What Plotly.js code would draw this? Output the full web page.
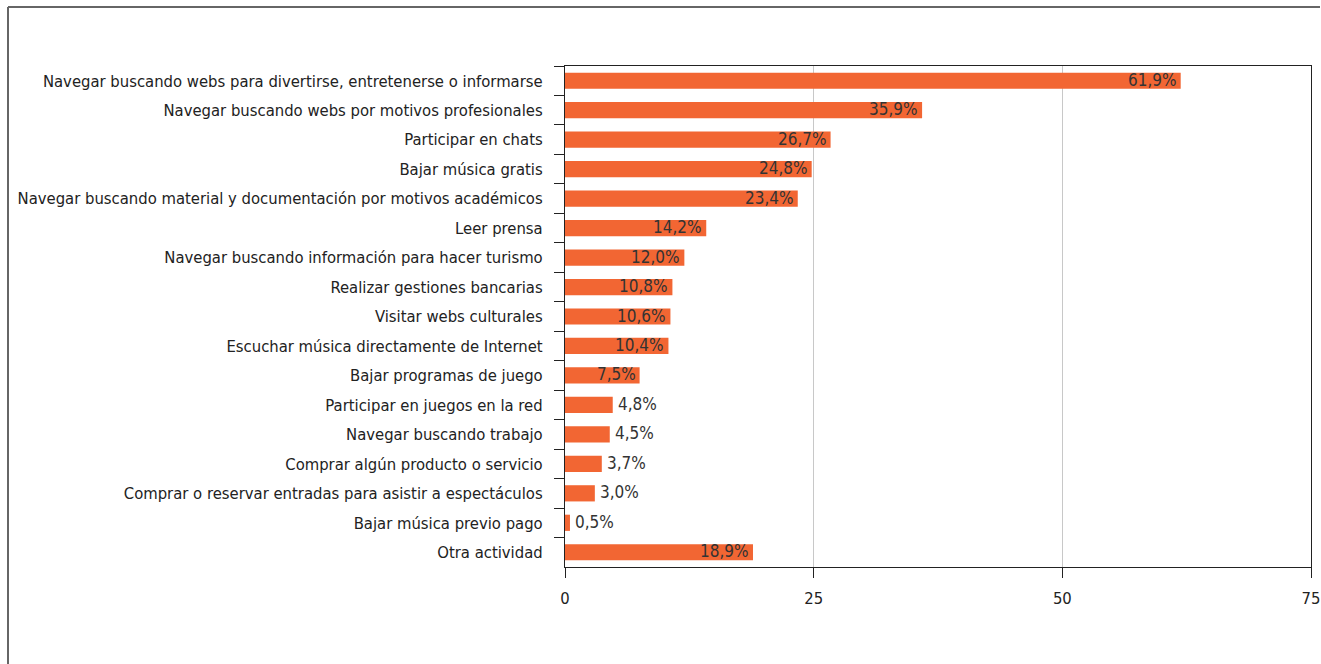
<!DOCTYPE html>
<html>
<head>
<meta charset="utf-8">
<script src="https://cdn.plot.ly/plotly-3.0.1.min.js"></script>
<style>html,body{margin:0;padding:0;background:#fff;}#chart{width:1321px;height:664px;}</style>
</head>
<body>
<div id="chart"></div>
<script>
const categories = [
  "Navegar buscando webs para divertirse, entretenerse o informarse",
  "Navegar buscando webs por motivos profesionales",
  "Participar en chats",
  "Bajar música gratis",
  "Navegar buscando material y documentación por motivos académicos",
  "Leer prensa",
  "Navegar buscando información para hacer turismo",
  "Realizar gestiones bancarias",
  "Visitar webs culturales",
  "Escuchar música directamente de Internet",
  "Bajar programas de juego",
  "Participar en juegos en la red",
  "Navegar buscando trabajo",
  "Comprar algún producto o servicio",
  "Comprar o reservar entradas para asistir a espectáculos",
  "Bajar música previo pago",
  "Otra actividad"
];
const values = [61.9, 35.9, 26.7, 24.8, 23.4, 14.2, 12.0, 10.8, 10.6, 10.4, 7.5, 4.8, 4.5, 3.7, 3.0, 0.5, 18.9];
const valueLabels = ["61,9%","35,9%","26,7%","24,8%","23,4%","14,2%","12,0%","10,8%","10,6%","10,4%","7,5%","4,8%","4,5%","3,7%","3,0%","0,5%","18,9%"];
const xTicks = [0, 25, 50, 75];

const FONT = '"DejaVu Sans Condensed", "Liberation Sans Narrow", sans-serif';

const traces = [
  {
    type: "bar",
    orientation: "h",
    x: values,
    y: categories,
    marker: {color: "#F26633"},
    width: 0.55,
    hoverinfo: "none",
    showlegend: false
  }
];

const annotations = values.map((v, i) => {
  const inside = v >= 7;
  return {
    x: v, y: categories[i], xref: "x", yref: "y",
    text: valueLabels[i], showarrow: false,
    xanchor: inside ? "right" : "left",
    xshift: inside ? -2 : 3,
    yshift: 1,
    font: {family: FONT, size: 17, color: "#333333"}
  };
});

const layout = {
  width: 1321,
  height: 664,
  margin: {l: 565, r: 10, t: 66, b: 97},
  paper_bgcolor: "#ffffff",
  plot_bgcolor: "#ffffff",
  font: {family: FONT, size: 16.5, color: "#222222"},
  xaxis: {
    range: [0, 75],
    tickvals: xTicks,
    ticktext: xTicks.map(String),
    showgrid: true,
    gridcolor: "#c8c8c8",
    gridwidth: 1,
    zeroline: false,
    showline: true,
    linecolor: "#222222",
    linewidth: 1,
    mirror: true,
    ticks: "outside",
    ticklen: 10,
    tickcolor: "#222222",
    tickfont: {family: FONT, size: 16.5, color: "#222222"},
    ticklabelstandoff: 6,
    fixedrange: true
  },
  yaxis: {
    type: "category",
    categoryorder: "array",
    categoryarray: categories,
    range: [categories.length - 0.5, -0.5],
    showgrid: false,
    zeroline: false,
    showline: true,
    linecolor: "#222222",
    linewidth: 1,
    mirror: true,
    ticks: "outside",
    tickson: "boundaries",
    ticklen: 10,
    tickcolor: "#222222",
    tickfont: {family: FONT, size: 16.5, color: "#222222"},
    ticklabelstandoff: 18,
    fixedrange: true
  },
  annotations: annotations,
  shapes: [
    {type: "line", xref: "paper", yref: "paper", x0: -557/746, x1: 755/746, y0: (664-97-7)/501, y1: (664-97-7)/501, line: {color: "#666666", width: 2}},
    {type: "line", xref: "paper", yref: "paper", x0: -557/746, x1: -557/746, y0: (664-97-7)/501, y1: -97/501, line: {color: "#666666", width: 2}}
  ]
};

Plotly.newPlot("chart", traces, layout, {staticPlot: true, displayModeBar: false});
</script>
</body>
</html>
